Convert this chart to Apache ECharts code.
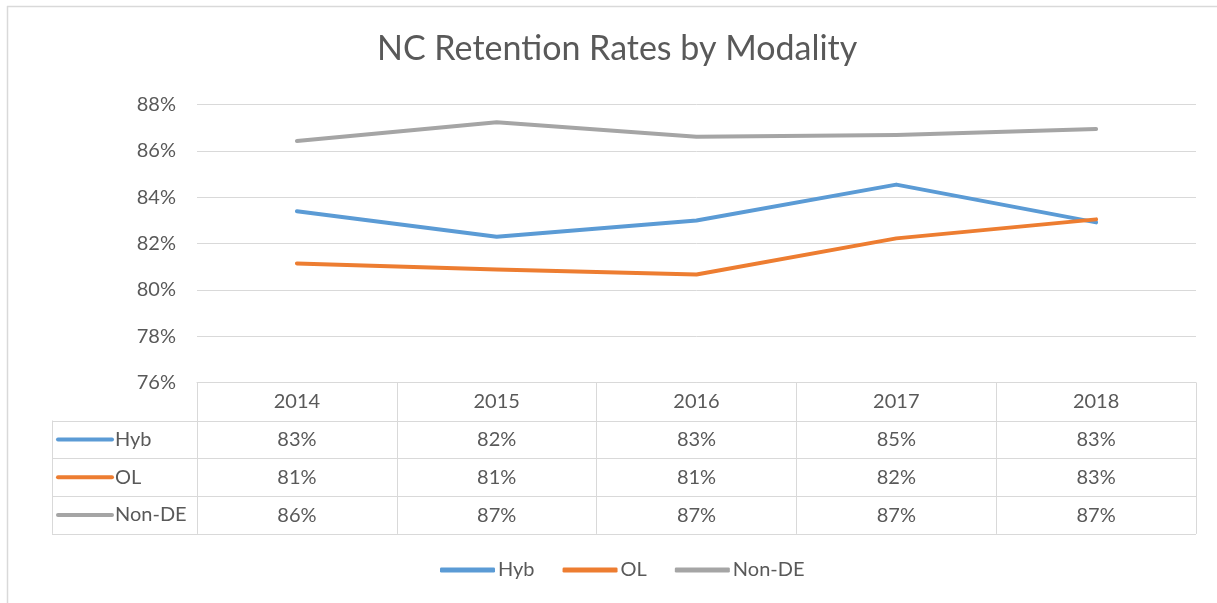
<!DOCTYPE html>
<html>
<head>
<meta charset="utf-8">
<script src="https://cdn.jsdelivr.net/npm/echarts@6/dist/echarts.min.js"></script>
<style>
html,body{margin:0;padding:0;background:#fff;}
#chart{width:1217px;height:603px;}
</style>
</head>
<body>
<div id="chart"></div>
<script>
var title = 'NC Retention Rates by Modality';
var categories = ['2014', '2015', '2016', '2017', '2018'];
var seriesNames = ['Hyb', 'OL', 'Non-DE'];
var hyb = [83.4, 82.3, 83.0, 84.55, 82.92];
var ol = [81.15, 80.89, 80.67, 82.23, 83.05];
var nonDE = [86.43, 87.24, 86.62, 86.69, 86.95];
var yTicks = [76, 78, 80, 82, 84, 86, 88];
var colors = ['#5B9BD5', '#ED7D31', '#A5A5A5'];

var allSeries = [hyb, ol, nonDE];
var FONT = 'Lato, "Open Sans", sans-serif';
var TXT = '#595959';
var LINE = '#d9d9d9';
var FS = 20;

var chart = echarts.init(document.getElementById('chart'), null, {renderer: 'canvas'});

var gridLeft = 197, gridRight = 21, gridTop = 104.7, gridBottom = 220.3;
var rowH = 37.8;
var tableTop = 603 - gridBottom;

function rowAxis(idx) {
  return {
    type: 'category', data: categories, position: 'bottom',
    offset: rowH * (idx + 1),
    axisLine: {show: false}, axisTick: {show: false}, splitLine: {show: false},
    axisLabel: {
      fontFamily: FONT, fontSize: FS, color: TXT, margin: 9,
      formatter: function (v, i) { return Math.round(allSeries[idx][i]) + '%'; }
    }
  };
}

var option = {
  animation: false,
  backgroundColor: '#fff',
  title: {
    text: title, left: 372, top: 27,
    textStyle: {fontFamily: FONT, fontSize: 34, fontWeight: 'normal', color: TXT}
  },
  legend: {
    bottom: 18, left: 435,
    data: seriesNames,
    icon: 'roundRect', itemWidth: 55, itemHeight: 5, itemGap: 28,
    textStyle: {fontFamily: FONT, fontSize: FS, color: TXT, padding: [0, 0, 0, -2]}
  },
  grid: {left: gridLeft, right: gridRight, top: gridTop, bottom: gridBottom, containLabel: false},
  xAxis: [
    {
      type: 'category', data: categories, boundaryGap: true,
      axisLine: {show: true, lineStyle: {color: LINE, width: 1}},
      axisTick: {show: true, length: rowH * 4, lineStyle: {color: LINE}},
      axisLabel: {fontFamily: FONT, fontSize: FS, color: TXT, margin: 9}
    },
    rowAxis(0), rowAxis(1), rowAxis(2)
  ],
  yAxis: {
    type: 'value', min: 76, max: 88, interval: 2,
    axisLine: {show: false}, axisTick: {show: false},
    splitLine: {lineStyle: {color: LINE, width: 1}},
    axisLabel: {
      fontFamily: FONT, fontSize: FS, color: TXT, margin: 21,
      customValues: yTicks,
      formatter: function (v) { return v + '%'; }
    }
  },
  series: seriesNames.map(function (n, i) {
    return {
      name: n, type: 'line', data: allSeries[i], xAxisIndex: 0,
      symbol: 'none', smooth: false,
      lineStyle: {color: colors[i], width: 4, cap: 'round', join: 'round'},
      itemStyle: {color: colors[i]}
    };
  })
};
chart.setOption(option);

// table borders and row keys
var x0 = 52, xEnd = 1217 - gridRight;
var g = [];
g.push({type: 'line', shape: {x1: 7, y1: 6.5, x2: 1217, y2: 6.5}, style: {stroke: LINE, lineWidth: 1.5}, silent: true});
g.push({type: 'line', shape: {x1: 7.5, y1: 6, x2: 7.5, y2: 603}, style: {stroke: LINE, lineWidth: 1.5}, silent: true});
for (var r = 1; r <= 4; r++) {
  var y = Math.round(tableTop + rowH * r) + 0.5;
  g.push({type: 'line', shape: {x1: x0, y1: y, x2: xEnd, y2: y}, style: {stroke: LINE, lineWidth: 1}, silent: true});
}
g.push({type: 'line', shape: {x1: x0 + 0.5, y1: tableTop + rowH, x2: x0 + 0.5, y2: tableTop + rowH * 4}, style: {stroke: LINE, lineWidth: 1}, silent: true});
seriesNames.forEach(function (n, i) {
  var cy = tableTop + rowH * (i + 1.5);
  g.push({type: 'line', shape: {x1: 58, y1: cy, x2: 112, y2: cy}, style: {stroke: colors[i], lineWidth: 4, lineCap: 'round'}, silent: true});
  g.push({type: 'text', x: 115, y: cy, style: {text: n, fontFamily: FONT, fontSize: FS, fill: TXT, verticalAlign: 'middle', align: 'left'}, silent: true});
});
chart.setOption({graphic: g});
</script>
</body>
</html>
